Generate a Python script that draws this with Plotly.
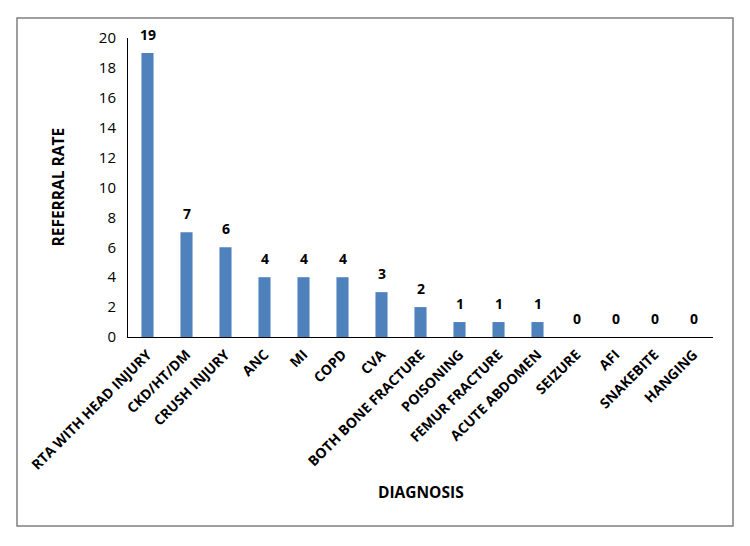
import plotly.graph_objects as go

categories = ["RTA WITH HEAD INJURY", "CKD/HT/DM", "CRUSH INJURY", "ANC", "MI", "COPD", "CVA",
              "BOTH BONE FRACTURE", "POISONING", "FEMUR FRACTURE", "ACUTE ABDOMEN", "SEIZURE",
              "AFI", "SNAKEBITE", "HANGING"]
values = [19, 7, 6, 4, 4, 4, 3, 2, 1, 1, 1, 0, 0, 0, 0]
y_ticks = [0, 2, 4, 6, 8, 10, 12, 14, 16, 18, 20]

W, H = 750, 546
L, R, T, B = 128, 37, 38, 209
pw, ph = W - L - R, H - T - B

fig = go.Figure()
fig.add_trace(go.Bar(
    x=categories, y=values,
    marker=dict(color="#4F81BD", line=dict(width=0)),
    hoverinfo="x+y",
))

label_annotations = [
    dict(x=c, y=v, xref="x", yref="y", text=f"<b>{v}</b>", showarrow=False,
         xanchor="center", yanchor="bottom", yshift=7,
         font=dict(family="Open Sans", size=14, color="#000000"))
    for c, v in zip(categories, values)
]

fig.update_layout(
    width=W, height=H,
    margin=dict(l=L, r=R, t=T, b=B),
    paper_bgcolor="white", plot_bgcolor="white",
    bargap=0.69,
    showlegend=False,
    font=dict(family="Open Sans", color="#000000"),
    xaxis=dict(
        range=[-0.5, len(categories) - 0.5],
        tickangle=-45,
        tickfont=dict(family="Open Sans", size=14, color="#000000", weight="bold"),
        showline=True, linecolor="#000000", linewidth=1,
        ticks="", showgrid=False, automargin=False, ticklabelstandoff=3,
    ),
    yaxis=dict(
        range=[0, 20], tickvals=y_ticks,
        tickfont=dict(family="Open Sans", size=15, color="#000000"),
        showline=True, linecolor="#000000", linewidth=1,
        showgrid=False, zeroline=False, ticks="", ticklabelstandoff=8, automargin=False,
    ),
    annotations=label_annotations + [
        dict(text="<b>DIAGNOSIS</b>", xref="paper", yref="paper", x=0.5, y=(337 - 492) / ph,
             showarrow=False, font=dict(size=15.5, family="Open Sans", color="#000000"),
             xanchor="center", yanchor="middle"),
        dict(text="<b>REFERRAL RATE</b>", xref="paper", yref="paper", x=(57 - L) / pw, y=0.5,
             showarrow=False, textangle=-90, font=dict(size=15.5, family="Open Sans", color="#000000"),
             xanchor="center", yanchor="middle"),
    ],
    shapes=[dict(
        type="rect", xref="paper", yref="paper",
        x0=(17 - L) / pw, x1=(733 - L) / pw,
        y0=(H - B - 526) / ph, y1=(H - B - 18) / ph,
        line=dict(color="#7F7F7F", width=1.5), fillcolor="rgba(0,0,0,0)", layer="below",
    )],
)

fig.write_html("out.html")
